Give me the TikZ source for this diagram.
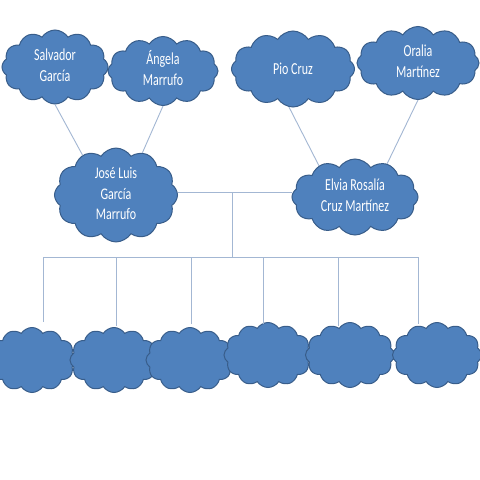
\documentclass[tikz,border=0pt]{standalone}
\usepackage{fontspec}
\setmainfont{Carlito}
\usetikzlibrary{shapes.symbols}
\definecolor{cloudfill}{HTML}{4F81BD}
\definecolor{clouddraw}{HTML}{385D8A}
\definecolor{linkcol}{HTML}{A3B7D3}
\begin{document}
\begin{tikzpicture}[x=1pt,y=-1pt,
  person/.style={cloud, cloud puffs=12, cloud puff arc=115, cloud ignores aspect,
    fill=cloudfill, draw=clouddraw, line width=1pt, text=white, align=center,
    inner sep=0pt, font=\fontsize{12}{15}\selectfont},
  link/.style={draw=linkcol, line width=0.9pt}]
\useasboundingbox (0,0) rectangle (480,480);
\fill[white] (0,0) rectangle (480,480);
% top row
\node[person, minimum width=106pt, minimum height=74pt] (sal) at (55,67) {\scalebox{1}[1.4]{\begin{tabular}{c}Salvador\\García\end{tabular}}};
\node[person, minimum width=110pt, minimum height=69pt] (ang) at (163,71) {\scalebox{1}[1.4]{\begin{tabular}{c}Ángela\\Marrufo\end{tabular}}};
\node[person, minimum width=123pt, minimum height=76pt] (pio) at (293,69) {\scalebox{1}[1.4]{Pio Cruz}};
\node[person, minimum width=122pt, minimum height=73pt] (ora) at (418,63) {\scalebox{1}[1.4]{\begin{tabular}{c}Oralia\\Martínez\end{tabular}}};
% middle row
\node[person, minimum width=123pt, minimum height=77pt] (jose) at (116,195) {\scalebox{1}[1.35]{\begin{tabular}{c}José Luis\\García\\Marrufo\end{tabular}}};
\node[person, minimum width=126pt, minimum height=76pt] (elvia) at (355,197) {\scalebox{1}[1.4]{\begin{tabular}{c}Elvia Rosalía\\Cruz Martínez\end{tabular}}};
% bottom row
\node[person, minimum width=88pt, minimum height=65pt] (c1) at (32,360) {};
\node[person, minimum width=88pt, minimum height=65pt] (c2) at (114,360) {};
\node[person, minimum width=88pt, minimum height=65pt] (c3) at (190,360) {};
\node[person, minimum width=88pt, minimum height=65pt] (c4) at (268,355) {};
\node[person, minimum width=89pt, minimum height=65pt] (c5) at (350,355) {};
\node[person, minimum width=89pt, minimum height=65pt] (c6) at (437,355) {};
% parent links
\draw[link] (sal.south) -- (jose.130);
\draw[link] (ang.south) -- (jose.58);
\draw[link] (pio.264) -- (elvia.139);
\draw[link] (ora.south) -- (elvia.46);
% marriage line and children bar
\coordinate (hub) at (232,192);
\coordinate (bar) at (232,257);
\draw[link] (jose.east |- hub) -- (elvia.west |- hub);
\draw[link] (hub) -- (bar);
\coordinate (d1) at (43,257);
\coordinate (d2) at (116,257);
\coordinate (d3) at (191,257);
\coordinate (d4) at (263,257);
\coordinate (d5) at (338,257);
\coordinate (d6) at (418,257);
\draw[link] (d1) -- (d6);
\draw[link] (d1) -- (43,322);
\draw[link] (d2) -- (116,326);
\draw[link] (d3) -- (191,324);
\draw[link] (d4) -- (263,324);
\draw[link] (d5) -- (338,326);
\draw[link] (d6) -- (418,324);
\end{tikzpicture}
\end{document}
